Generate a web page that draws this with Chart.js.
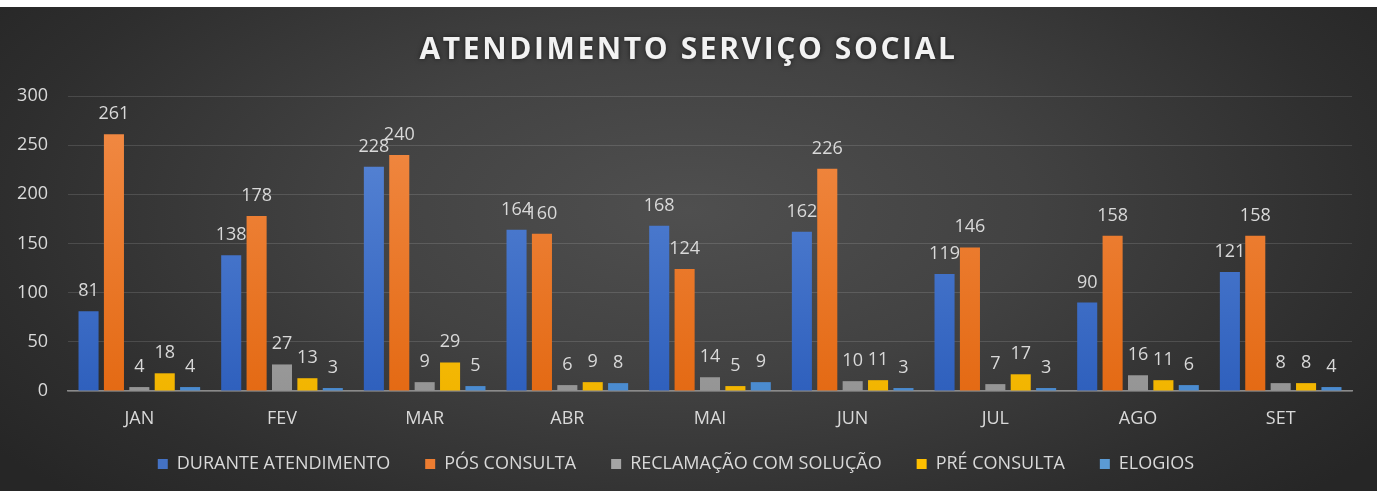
<!DOCTYPE html>
<html>
<head>
<meta charset="utf-8">
<script src="https://cdn.jsdelivr.net/npm/chart.js@4/dist/chart.umd.min.js"></script>
<style>
  html, body { margin: 0; padding: 0; background: #ffffff; }
  #wrap {
    position: absolute; left: 0; top: 7px; width: 1377px; height: 484px;
    background: radial-gradient(ellipse 62% 85% at 50% 42%, #4f4f4f 0%, #424242 40%, #2e2e2e 80%, #262626 100%);
  }
  canvas { display: block; }
</style>
</head>
<body>
<div id="wrap"><canvas id="c" width="1377" height="484"></canvas></div>
<script>
const categories = ['JAN', 'FEV', 'MAR', 'ABR', 'MAI', 'JUN', 'JUL', 'AGO', 'SET'];
const seriesNames = ['DURANTE ATENDIMENTO', 'PÓS CONSULTA', 'RECLAMAÇÃO COM SOLUÇÃO', 'PRÉ CONSULTA', 'ELOGIOS'];
const duranteAtendimento = [81, 138, 228, 164, 168, 162, 119, 90, 121];
const posConsulta = [261, 178, 240, 160, 124, 226, 146, 158, 158];
const reclamacaoComSolucao = [4, 27, 9, 6, 14, 10, 7, 16, 8];
const preConsulta = [18, 13, 29, 9, 5, 11, 17, 11, 8];
const elogios = [4, 3, 5, 8, 9, 3, 3, 6, 4];
const yTicks = [0, 50, 100, 150, 200, 250, 300];
const titleText = 'ATENDIMENTO SERVIÇO SOCIAL';

const seriesValues = [duranteAtendimento, posConsulta, reclamacaoComSolucao, preConsulta, elogios];
const colorStops = [
  ['#5d8ad8', '#2f60bd', '#4472c4'],
  ['#f28c48', '#e46a14', '#ed7d31'],
  ['#b8b8b8', '#959595', '#a5a5a5'],
  ['#ffce2e', '#f2b500', '#ffc000'],
  ['#6eaae2', '#4a8bd0', '#5b9bd5']
];

function gradientFor(idx) {
  return function (ctx) {
    const chart = ctx.chart;
    const area = chart.chartArea;
    if (!area) return colorStops[idx][2];
    const g = chart.ctx.createLinearGradient(0, area.top, 0, area.bottom);
    g.addColorStop(0, colorStops[idx][0]);
    g.addColorStop(1, colorStops[idx][1]);
    return g;
  };
}

const labelColor = '#d9d9d9';
const fontFamily = '"Open Sans", "Liberation Sans", sans-serif';

const valueLabels = {
  id: 'valueLabels',
  afterDatasetsDraw(chart) {
    const ctx = chart.ctx;
    ctx.save();
    ctx.font = '18px ' + fontFamily;
    ctx.fillStyle = labelColor;
    ctx.textAlign = 'center';
    ctx.textBaseline = 'alphabetic';
    chart.data.datasets.forEach((ds, di) => {
      const meta = chart.getDatasetMeta(di);
      meta.data.forEach((bar, i) => {
        ctx.fillText(String(ds.data[i]), bar.x, bar.y - 15);
      });
    });
    ctx.restore();
  }
};

const layoutTweaks = {
  id: 'layoutTweaks',
  afterLayout(chart) {
    // let x tick labels extend below the axis box (not clipped by the legend band)
    if (chart.scales.x) chart.scales.x.bottom = chart.height;
    const tb = chart.titleBlock;
    if (!tb) return;
    tb.right = chart.width;
    if (tb._patched) return;
    const orig = tb.draw;
    tb.draw = function (a) {
      const c = this.ctx;
      c.save();
      c.letterSpacing = '2.6px';
      c.shadowColor = 'rgba(0,0,0,0.55)';
      c.shadowBlur = 5;
      orig.call(this, a);
      c.restore();
    };
    tb._patched = true;
  }
};

new Chart(document.getElementById('c'), {
  type: 'bar',
  data: {
    labels: categories,
    datasets: seriesValues.map((vals, i) => ({
      label: seriesNames[i],
      data: vals,
      backgroundColor: gradientFor(i),
      borderWidth: 0,
      categoryPercentage: 0.89,
      barPercentage: 0.79
    }))
  },
  options: {
    responsive: false,
    animation: false,
    events: [],
    layout: { padding: { top: 0, left: 0, right: 25, bottom: 8 } },
    plugins: {
      title: {
        display: true,
        text: titleText,
        color: '#f2f2f2',
        font: { family: fontFamily, size: 30, weight: 'bold' },
        padding: { top: 25, bottom: 28 }
      },
      legend: {
        position: 'bottom',
        labels: {
          color: labelColor,
          font: { family: fontFamily, size: 18 },
          boxWidth: 10,
          boxHeight: 10,
          padding: 35,
          generateLabels(chart) {
            return chart.data.datasets.map((ds, i) => ({
              text: ds.label,
              fillStyle: colorStops[i][2],
              strokeStyle: colorStops[i][2],
              lineWidth: 0,
              fontColor: labelColor,
              datasetIndex: i
            }));
          }
        }
      },
      tooltip: { enabled: false }
    },
    scales: {
      x: {
        grid: { display: false, drawTicks: false },
        border: { display: true, color: '#8a8a8a', width: 1.5 },
        ticks: { color: labelColor, font: { family: fontFamily, size: 18 }, padding: 17 },
        afterFit(s) { s.height = 29; }
      },
      y: {
        min: 0,
        max: 300,
        afterBuildTicks(s) { s.ticks = yTicks.map(v => ({ value: v })); },
        grid: { color: 'rgba(255,255,255,0.13)', drawTicks: false, lineWidth: 1 },
        border: { display: false },
        ticks: { color: labelColor, font: { family: fontFamily, size: 18 }, padding: 20 },
        afterFit(s) { s.width = 68; }
      }
    }
  },
  plugins: [valueLabels, layoutTweaks]
});
</script>
</body>
</html>
